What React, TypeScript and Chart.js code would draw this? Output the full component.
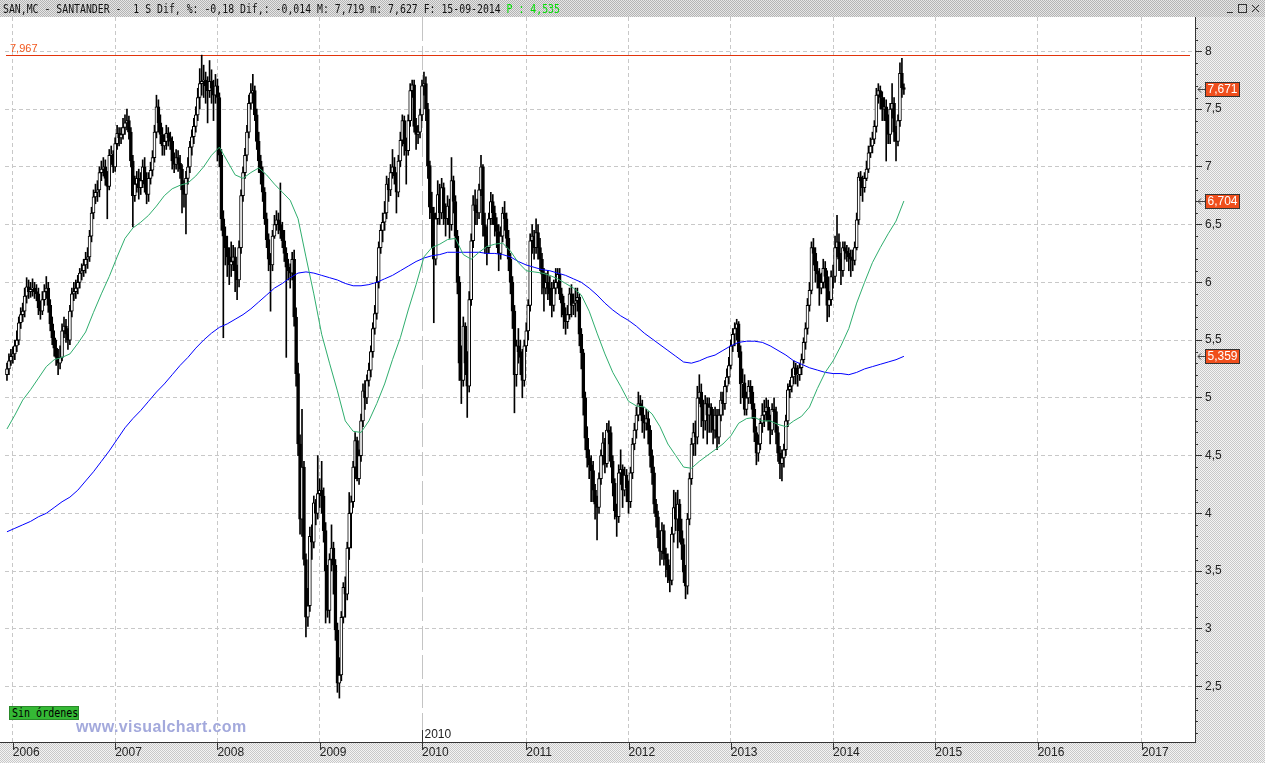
import React, { useEffect, useRef } from 'react';
import { Chart, registerables } from 'chart.js';

Chart.register(...registerables);

// Weekly candles, index 0 = mid-December 2005, last = week of 15-09-2014
const firstOpen = 5.2;
const closes = [
  5.25, 5.32, 5.36, 5.38, 5.45, 5.5, 5.65, 5.72, 5.75, 5.88,
  5.96, 5.92, 5.94, 5.95, 5.92, 5.9, 5.78, 5.75, 5.85, 5.92,
  5.95, 5.8, 5.64, 5.52, 5.43, 5.35, 5.3, 5.35, 5.58, 5.62,
  5.55, 5.5, 5.75, 5.9, 5.92, 5.95, 6.0, 6.08, 6.1, 6.15,
  6.2, 6.22, 6.4, 6.6, 6.74, 6.78, 6.8, 6.95, 6.98, 7.0,
  6.9, 6.83, 7.1, 7.1, 7.0, 7.2, 7.29, 7.25, 7.28, 7.34,
  7.38, 7.4, 7.3, 7.05, 6.75, 6.85, 6.9, 6.82, 6.88, 7.0,
  6.85, 6.76, 6.9, 6.97, 7.08, 7.3, 7.52, 7.38, 7.28, 7.18,
  7.22, 7.29, 7.25, 7.22, 7.05, 7.02, 7.08, 7.03, 6.98, 6.8,
  6.76, 6.9, 7.0, 7.17, 7.26, 7.35, 7.45, 7.6, 7.72, 7.74,
  7.75, 7.7, 7.66, 7.74, 7.68, 7.62, 7.7, 7.6, 7.1, 6.55,
  6.4, 6.3, 6.22, 6.15, 6.18, 6.22, 6.1, 6.02, 6.3, 6.75,
  6.95, 7.1, 7.3, 7.55, 7.64, 7.66, 7.45, 7.22, 7.05, 6.95,
  6.78, 6.55, 6.37, 6.2, 6.15, 6.4, 6.5, 6.54, 6.5, 6.45,
  6.36, 6.25, 6.13, 6.1, 6.08, 6.2, 5.7, 5.21, 4.6, 3.95,
  4.4, 3.6, 3.1, 3.2, 3.8, 3.75, 4.09, 4.0, 4.17, 4.2,
  4.15, 3.85, 3.5, 3.16, 3.6, 3.7, 3.55, 2.99, 2.53, 2.6,
  3.1, 3.36, 3.3, 3.7, 4.0, 4.1, 4.4, 4.63, 4.3, 4.5,
  4.8, 5.06, 5.0, 5.15, 5.24, 5.4, 5.6, 5.73, 6.0, 6.3,
  6.45, 6.52, 6.6, 6.85, 6.8, 6.95, 7.0, 6.92, 6.78, 7.05,
  7.23, 7.4, 7.2, 7.14, 7.4, 7.66, 7.71, 7.35, 7.28, 7.3,
  7.45, 7.7, 7.72, 7.5, 7.01, 6.65, 6.6, 6.2, 6.55, 6.76,
  6.6, 6.82, 6.6, 6.55, 6.66, 6.5, 6.88, 6.7, 6.4, 6.0,
  5.3, 5.15, 5.62, 5.3, 5.1, 5.85, 6.36, 6.67, 6.62, 6.6,
  6.8, 7.0, 6.5, 6.4, 6.3, 6.55, 6.7, 6.6, 6.5, 6.44,
  6.25, 6.4, 6.6, 6.55, 6.38, 6.2, 6.0, 5.75, 5.2, 5.45,
  5.4, 5.35, 5.15, 5.45, 5.58, 5.8, 6.36, 6.4, 6.3, 6.43,
  6.3, 6.2, 6.07, 5.95, 6.0, 5.95, 5.9, 5.8, 5.95, 6.0,
  6.07, 5.9, 5.82, 5.72, 5.66, 5.72, 5.9, 5.8, 5.82, 5.84,
  5.87, 5.55, 5.39, 5.0, 4.65, 4.48, 4.42, 4.37, 4.2, 4.08,
  4.05, 4.3, 4.5, 4.61, 4.43, 4.72, 4.7, 4.45, 4.26, 4.02,
  3.97, 4.35, 4.38, 4.2, 4.33, 4.22, 4.1, 4.35, 4.6, 4.72,
  4.85, 4.95, 4.92, 4.8, 4.78, 4.82, 4.72, 4.5, 4.35, 4.08,
  3.97, 3.79, 3.67, 3.85, 3.65, 3.6, 3.51, 3.42, 3.82, 4.05,
  3.95, 4.08, 3.85, 3.73, 3.49, 3.37, 3.95, 4.3, 4.6, 4.7,
  4.66, 5.0, 5.05, 4.92, 4.8, 4.95, 4.85, 4.92, 4.85, 4.72,
  4.85, 4.66, 4.85, 4.98, 4.95, 5.1, 5.18, 5.28, 5.45, 5.55,
  5.6, 5.64, 5.4, 5.12, 5.13, 4.9, 5.0, 5.1, 5.05, 4.9,
  4.7, 4.52, 4.6, 4.78, 4.85, 4.88, 4.92, 4.8, 4.72, 4.9,
  4.88, 4.7, 4.52, 4.43, 4.48, 4.55, 4.8, 5.07, 5.1, 5.18,
  5.26, 5.2, 5.2, 5.26, 5.33, 5.48, 5.6, 5.8, 5.93, 6.3,
  6.25, 6.1, 6.07, 5.95, 6.0, 6.12, 6.05, 5.8, 5.85, 6.05,
  6.05, 6.3, 6.35, 6.2, 6.1, 6.3, 6.27, 6.25, 6.22, 6.2,
  6.19, 6.3, 6.54, 6.91, 6.88, 6.82, 6.9, 6.98, 7.12, 7.18,
  7.24, 7.35, 7.62, 7.66, 7.6, 7.5, 7.52, 7.4, 7.28, 7.5,
  7.55, 7.3, 7.22, 7.4, 7.81, 7.685, 7.671,
];

const highs = [
  5.3, 5.38, 5.42, 5.44, 5.5, 5.58, 5.7, 5.78, 5.82, 5.95,
  6.04, 6.02, 6.0, 6.03, 6.0, 5.98, 5.95, 5.84, 5.92, 5.98,
  6.05, 6.0, 5.85, 5.7, 5.58, 5.5, 5.42, 5.45, 5.64, 5.7,
  5.68, 5.6, 5.8, 5.95, 6.0, 6.02, 6.06, 6.12, 6.16, 6.2,
  6.26, 6.3, 6.45, 6.65, 6.8, 6.85, 6.88, 7.0, 7.05, 7.08,
  7.06, 6.96, 7.15, 7.18, 7.14, 7.25, 7.36, 7.34, 7.34, 7.42,
  7.45, 7.5, 7.44, 7.34, 7.1, 6.92, 6.96, 6.98, 6.95, 7.06,
  7.08, 6.95, 6.95, 7.04, 7.14, 7.36, 7.62, 7.58, 7.45, 7.34,
  7.28, 7.36, 7.34, 7.3, 7.26, 7.12, 7.15, 7.14, 7.1, 7.02,
  6.88, 6.96, 7.08, 7.22, 7.32, 7.42, 7.52, 7.68, 7.85, 7.967,
  7.88, 7.82, 7.78, 7.92, 7.84, 7.75, 7.8, 7.76, 7.64, 7.15,
  6.62, 6.48, 6.4, 6.3, 6.35, 6.32, 6.3, 6.15, 6.36, 6.8,
  7.0, 7.16, 7.36, 7.62, 7.72, 7.8, 7.7, 7.5, 7.3, 7.1,
  7.0, 6.82, 6.6, 6.42, 6.25, 6.45, 6.58, 6.62, 6.6, 6.86,
  6.52, 6.45, 6.3, 6.2, 6.16, 6.26, 6.28, 5.78, 5.3, 4.68,
  4.9, 4.45, 3.65, 3.35, 3.88, 3.9, 4.15, 4.12, 4.5, 4.3,
  4.45, 4.22, 3.92, 3.55, 3.65, 3.9, 3.75, 3.6, 3.05, 2.75,
  3.15, 3.4, 3.45, 3.75, 4.18, 4.15, 4.45, 4.7, 4.66, 4.55,
  4.86, 5.12, 5.15, 5.2, 5.3, 5.45, 5.65, 5.8, 6.05, 6.35,
  6.5, 6.6, 6.7, 6.92, 6.9, 7.02, 7.15, 7.08, 6.95, 7.1,
  7.3, 7.45, 7.44, 7.25, 7.45, 7.72, 7.75, 7.75, 7.42, 7.36,
  7.5, 7.75, 7.82, 7.78, 7.55, 7.05, 6.78, 6.65, 6.6, 6.88,
  6.85, 6.9, 6.86, 6.68, 6.75, 6.72, 7.08, 6.92, 6.75, 6.45,
  6.05, 5.45, 5.7, 5.65, 5.4, 5.92, 6.42, 6.75, 6.8, 6.72,
  6.85, 7.1, 7.02, 6.6, 6.48, 6.6, 6.78, 6.76, 6.66, 6.56,
  6.5, 6.48, 6.65, 6.7, 6.6, 6.45, 6.25, 6.05, 5.8, 5.5,
  5.6, 5.5, 5.42, 5.5, 5.65, 5.85, 6.42, 6.5, 6.45, 6.55,
  6.5, 6.38, 6.25, 6.12, 6.08, 6.1, 6.05, 6.0, 6.02, 6.12,
  6.12, 6.12, 5.95, 5.88, 5.78, 5.8, 5.95, 5.98, 5.9, 5.95,
  5.95, 5.9, 5.6, 5.42, 5.05, 4.75, 4.55, 4.5, 4.45, 4.25,
  4.15, 4.35, 4.55, 4.7, 4.65, 4.78, 4.8, 4.75, 4.5, 4.3,
  4.08, 4.42, 4.55, 4.42, 4.4, 4.38, 4.28, 4.4, 4.65, 4.78,
  4.92, 5.05, 5.02, 4.98, 4.85, 4.9, 4.88, 4.76, 4.55, 4.4,
  4.12, 4.02, 3.85, 3.92, 3.9, 3.7, 3.65, 3.55, 3.88, 4.2,
  4.18, 4.2, 4.12, 3.95, 3.78, 3.55, 4.0, 4.35, 4.65, 4.78,
  4.8, 5.1, 5.2, 5.12, 4.98, 5.02, 5.0, 5.0, 4.95, 4.9,
  4.92, 4.9, 4.9, 5.05, 5.05, 5.15, 5.25, 5.35, 5.5, 5.6,
  5.65, 5.68, 5.66, 5.45, 5.25, 5.2, 5.05, 5.15, 5.15, 5.1,
  4.95, 4.75, 4.68, 4.82, 4.95, 4.98, 5.0, 4.98, 4.85, 4.95,
  5.0, 4.92, 4.75, 4.58, 4.55, 4.6, 4.85, 5.12, 5.15, 5.25,
  5.32, 5.3, 5.28, 5.3, 5.38, 5.52, 5.65, 5.86, 6.0, 6.35,
  6.38, 6.3, 6.18, 6.12, 6.08, 6.2, 6.18, 6.1, 5.92, 6.1,
  6.15, 6.4, 6.58, 6.42, 6.25, 6.35, 6.35, 6.32, 6.3, 6.28,
  6.28, 6.35, 6.6, 6.95, 6.96, 6.92, 6.95, 7.05, 7.18, 7.25,
  7.3, 7.4, 7.68, 7.72, 7.7, 7.65, 7.6, 7.58, 7.45, 7.55,
  7.72, 7.6, 7.35, 7.45, 7.9, 7.94, 7.719,
];

const lows = [
  5.15, 5.2, 5.28, 5.3, 5.33, 5.4, 5.46, 5.6, 5.66, 5.7,
  5.82, 5.86, 5.87, 5.88, 5.86, 5.84, 5.72, 5.68, 5.72, 5.8,
  5.86, 5.74, 5.58, 5.46, 5.36, 5.28, 5.2, 5.25, 5.32, 5.52,
  5.48, 5.42, 5.46, 5.7, 5.84, 5.86, 5.9, 5.95, 6.02, 6.05,
  6.08, 6.12, 6.18, 6.35, 6.55, 6.68, 6.7, 6.74, 6.88, 6.92,
  6.84, 6.55, 6.8, 7.02, 6.95, 6.96, 7.15, 7.18, 7.2, 7.24,
  7.28, 7.32, 7.24, 7.0, 6.48, 6.7, 6.78, 6.72, 6.76, 6.82,
  6.78, 6.68, 6.7, 6.85, 6.92, 7.04, 7.25, 7.3, 7.2, 7.1,
  7.1, 7.15, 7.18, 7.15, 6.98, 6.95, 6.98, 6.96, 6.9, 6.6,
  6.65, 6.42, 6.85, 6.95, 7.1, 7.2, 7.3, 7.4, 7.5, 7.62,
  7.6, 7.55, 7.38, 7.6, 7.55, 7.4, 7.55, 7.05, 7.0, 6.45,
  5.52, 6.15, 6.05, 5.98, 6.05, 6.1, 5.92, 5.85, 5.96, 6.25,
  6.7, 6.9, 7.05, 7.25, 7.5, 7.55, 7.4, 7.15, 6.95, 6.85,
  6.7, 6.5, 6.3, 6.1, 5.75, 6.1, 6.38, 6.45, 6.42, 6.38,
  6.3, 6.18, 5.35, 6.02, 5.95, 6.02, 5.62, 5.1, 4.5, 3.82,
  3.8, 3.55, 2.93, 3.02, 3.15, 3.6, 3.7, 3.9, 3.95, 4.05,
  4.0, 3.75, 3.05, 3.1, 3.05, 3.5, 3.3, 2.9, 2.45, 2.4,
  2.55, 3.05, 3.1, 3.25, 3.6, 3.7, 4.05, 4.3, 4.28, 4.25,
  4.45, 4.75, 4.9, 4.95, 5.1, 5.18, 5.35, 5.55, 5.68, 5.95,
  6.25, 6.35, 6.45, 6.55, 6.7, 6.75, 6.9, 6.85, 6.6, 6.74,
  7.0, 7.18, 7.1, 6.85, 7.1, 7.35, 7.6, 7.3, 7.15, 7.2,
  7.25, 7.4, 7.62, 7.4, 6.9, 6.55, 6.3, 5.65, 6.15, 6.5,
  6.5, 6.55, 6.5, 6.4, 6.5, 6.38, 6.45, 6.6, 6.3, 5.9,
  5.15, 4.95, 5.1, 5.2, 4.83, 5.05, 5.8, 6.3, 6.5, 6.5,
  6.55, 6.75, 6.4, 6.25, 6.15, 6.25, 6.5, 6.5, 6.4, 6.3,
  6.1, 6.2, 6.35, 6.45, 6.3, 6.1, 5.9, 5.6, 4.87, 5.1,
  5.3, 5.2, 5.0, 5.1, 5.4, 5.5, 5.75, 6.25, 6.2, 6.25,
  6.2, 6.1, 5.9, 5.75, 5.9, 5.85, 5.8, 5.7, 5.75, 5.9,
  5.95, 5.85, 5.7, 5.6, 5.55, 5.6, 5.68, 5.7, 5.72, 5.7,
  5.75, 5.45, 5.25, 4.85, 4.55, 4.4, 4.3, 4.1, 4.1, 3.95,
  3.77, 4.0, 4.25, 4.42, 4.35, 4.4, 4.6, 4.4, 4.15, 3.95,
  3.8, 3.92, 4.25, 4.05, 4.15, 4.1, 4.0, 4.05, 4.3, 4.55,
  4.65, 4.8, 4.85, 4.7, 4.65, 4.72, 4.6, 4.4, 4.25, 4.0,
  3.88, 3.7, 3.55, 3.6, 3.55, 3.45, 3.4, 3.32, 3.38, 3.75,
  3.85, 3.7, 3.75, 3.6, 3.4, 3.26, 3.3, 3.9, 4.25, 4.5,
  4.5, 4.6, 4.95, 4.75, 4.65, 4.72, 4.6, 4.7, 4.7, 4.6,
  4.65, 4.55, 4.6, 4.8, 4.85, 4.9, 5.05, 5.12, 5.25, 5.4,
  5.45, 5.5, 5.35, 4.95, 5.0, 4.85, 4.85, 4.95, 4.95, 4.82,
  4.62, 4.42, 4.45, 4.55, 4.7, 4.75, 4.8, 4.72, 4.6, 4.68,
  4.78, 4.6, 4.45, 4.3, 4.28, 4.4, 4.5, 4.75, 5.0, 5.05,
  5.12, 5.12, 5.1, 5.15, 5.2, 5.3, 5.42, 5.55, 5.75, 5.9,
  6.15, 6.0, 5.95, 5.8, 5.9, 5.95, 5.95, 5.66, 5.7, 5.8,
  5.95, 6.0, 6.22, 6.1, 5.98, 6.05, 6.2, 6.18, 6.1, 6.05,
  6.1, 6.15, 6.28, 6.5, 6.75, 6.7, 6.78, 6.88, 6.95, 7.08,
  7.12, 7.2, 7.3, 7.55, 7.5, 7.4, 7.4, 7.05, 7.2, 7.2,
  7.42, 7.22, 7.05, 7.18, 7.35, 7.6, 7.627,
];

// Moving averages, read every 4 weeks
const maStep = 4;
const greenMA = [
  4.73, 4.85, 4.98, 5.07, 5.17, 5.27, 5.33, 5.35, 5.38, 5.47,
  5.57, 5.74, 5.9, 6.05, 6.22, 6.38, 6.47, 6.52, 6.58, 6.66,
  6.75, 6.81, 6.84, 6.86, 6.92, 7.0, 7.1, 7.17, 7.05, 6.93,
  6.9, 6.95, 6.99, 6.93, 6.85, 6.78, 6.71, 6.55, 6.22, 5.9,
  5.55, 5.3, 5.06, 4.8, 4.71, 4.7, 4.8, 4.95, 5.12, 5.33,
  5.52, 5.76, 5.98, 6.22, 6.3, 6.33, 6.37, 6.38, 6.24, 6.2,
  6.26, 6.31, 6.33, 6.34, 6.27, 6.17, 6.1, 6.09, 6.08, 6.06,
  6.03, 5.99, 5.95, 5.89, 5.75, 5.56, 5.38, 5.22, 5.1, 4.97,
  4.93, 4.92, 4.86, 4.75, 4.6, 4.5, 4.4, 4.39, 4.45, 4.5,
  4.55, 4.6, 4.67, 4.78, 4.82, 4.83, 4.8, 4.8, 4.77, 4.75,
  4.8, 4.84, 4.92, 5.08, 5.22, 5.32, 5.45, 5.6, 5.82, 6.0,
  6.17, 6.3, 6.42, 6.53, 6.704,
];
const blueMA = [
  3.84, 3.87, 3.9, 3.93, 3.97, 4.0, 4.05, 4.1, 4.14, 4.2,
  4.28, 4.36, 4.45, 4.54, 4.64, 4.74, 4.82, 4.89, 4.97, 5.05,
  5.12, 5.2, 5.28, 5.35, 5.43, 5.5, 5.56, 5.61, 5.64, 5.68,
  5.72, 5.77, 5.83, 5.89, 5.95, 5.99, 6.04, 6.08, 6.09, 6.08,
  6.06, 6.04, 6.02, 5.99, 5.97, 5.97, 5.98, 6.0, 6.03, 6.06,
  6.1, 6.14, 6.18, 6.21, 6.23, 6.24, 6.26, 6.26, 6.26, 6.26,
  6.26, 6.25, 6.25, 6.24, 6.22, 6.18, 6.15, 6.13, 6.11, 6.1,
  6.08, 6.06, 6.03, 6.0, 5.95, 5.89, 5.82, 5.76, 5.71, 5.67,
  5.62, 5.56, 5.51, 5.46, 5.41, 5.36, 5.31, 5.3, 5.32, 5.35,
  5.37, 5.41, 5.45, 5.48, 5.49, 5.49, 5.48, 5.45, 5.41, 5.37,
  5.32, 5.29, 5.26, 5.24, 5.22, 5.21, 5.21, 5.2, 5.22, 5.25,
  5.27, 5.29, 5.31, 5.33, 5.359,
];

const yearLabels = ['2006', '2007', '2008', '2009', '2010', '2011', '2012', '2013', '2014', '2015', '2016', '2017'];
const yearWeekIndex = [3, 55, 107, 159, 211, 264, 316, 368, 420, 472, 524, 577];
const yTickValues = [2.5, 3, 3.5, 4, 4.5, 5, 5.5, 6, 6.5, 7, 7.5, 8];
const markedYearIndex = 4; // 2010 divider

const X_MIN = -1;
const X_MAX = 604;
const Y_MIN = 2.02;
const Y_MAX = 8.297;

const fmt = (v: number) => String(v).replace('.', ',');

function makePattern(ctx: CanvasRenderingContext2D, dark: string, light: string) {
  const c = document.createElement('canvas');
  c.width = 2;
  c.height = 2;
  const g = c.getContext('2d')!;
  g.fillStyle = light;
  g.fillRect(0, 0, 2, 2);
  g.fillStyle = dark;
  g.fillRect(0, 0, 1, 1);
  g.fillRect(1, 1, 1, 1);
  return ctx.createPattern(c, 'repeat')!;
}

export default function App() {
  const ref = useRef<HTMLCanvasElement>(null);

  useEffect(() => {
    const canvas = ref.current!;
    const opens = closes.map((c, i) => (i === 0 ? firstOpen : closes[i - 1]));
    const bodies = closes.map((c, i) => ({ x: i, y: [opens[i], c] }));
    const wicks = closes.map((c, i) => ({ x: i, y: [lows[i], highs[i]] }));
    const bodyFill = closes.map((c, i) => (c >= opens[i] ? '#ffffff' : '#000000'));
    const greenPts = greenMA.map((v, k) => ({ x: k * maStep, y: v }));
    const bluePts = blueMA.map((v, k) => ({ x: k * maStep, y: v }));
    const maxHigh = Math.max(...highs);
    const tags = [closes[closes.length - 1], greenMA[greenMA.length - 1], blueMA[blueMA.length - 1]];

    const decor = {
      id: 'decor',
      beforeDraw(chart: any) {
        const { ctx, chartArea: a, width, height } = chart;
        ctx.save();
        ctx.fillStyle = '#ffffff';
        ctx.fillRect(0, 0, width, height);
        ctx.fillStyle = makePattern(ctx, '#b4b4b4', '#e6e6e6');
        ctx.fillRect(0, 0, width, a.top);
        ctx.fillStyle = makePattern(ctx, '#c8c8c8', '#f4f4f4');
        ctx.fillRect(a.right, a.top, width - a.right, height - a.top);
        ctx.fillRect(0, a.bottom, a.right, height - a.bottom);
        ctx.restore();
      },
      beforeDatasetsDraw(chart: any) {
        const { ctx, chartArea: a, scales } = chart;
        const xs = scales.x;
        const ys = scales.y;
        ctx.save();
        const xd = Math.round(xs.getPixelForValue(yearWeekIndex[markedYearIndex])) + 0.5;
        ctx.strokeStyle = '#c4c4c4';
        ctx.lineWidth = 1;
        ctx.setLineDash([24, 5]);
        ctx.beginPath();
        ctx.moveTo(xd, a.top);
        ctx.lineTo(xd, a.bottom);
        ctx.stroke();
        ctx.setLineDash([]);
        const ym = Math.round(ys.getPixelForValue(maxHigh)) + 0.5;
        ctx.strokeStyle = '#e2340c';
        ctx.beginPath();
        ctx.moveTo(a.left + 1, ym);
        ctx.lineTo(a.right - 5, ym);
        ctx.stroke();
        ctx.fillStyle = '#f2581e';
        ctx.font = '11px "Liberation Sans", Arial, sans-serif';
        ctx.textBaseline = 'alphabetic';
        ctx.textAlign = 'left';
        ctx.fillText(fmt(maxHigh), 10, ym - 4);
        ctx.restore();
      },
      afterDraw(chart: any) {
        const { ctx, chartArea: a, scales, width } = chart;
        const xs = scales.x;
        const ys = scales.y;
        ctx.save();
        ctx.strokeStyle = '#333333';
        ctx.lineWidth = 1;
        for (let k = 21; k <= 82; k++) {
          if (k % 5 === 0) continue;
          const y = Math.round(ys.getPixelForValue(k / 10)) + 0.5;
          ctx.beginPath();
          ctx.moveTo(a.right, y);
          ctx.lineTo(a.right + 3, y);
          ctx.stroke();
        }
        yearWeekIndex.forEach((v) => {
          const x = Math.round(xs.getPixelForValue(v)) + 0.5;
          ctx.beginPath();
          ctx.moveTo(x, a.bottom);
          ctx.lineTo(x, a.bottom + 8);
          ctx.stroke();
        });
        ctx.beginPath();
        ctx.moveTo(0, a.bottom + 0.5);
        ctx.lineTo(a.left, a.bottom + 0.5);
        ctx.stroke();
        const xd = Math.round(xs.getPixelForValue(yearWeekIndex[markedYearIndex])) + 0.5;
        ctx.beginPath();
        ctx.moveTo(xd, a.bottom - 12);
        ctx.lineTo(xd, a.bottom);
        ctx.stroke();
        ctx.fillStyle = '#222222';
        ctx.font = '12px "Liberation Sans", Arial, sans-serif';
        ctx.textAlign = 'left';
        ctx.textBaseline = 'alphabetic';
        ctx.fillText(yearLabels[markedYearIndex], xd + 2, a.bottom - 4);
        tags.forEach((v) => {
          const y = Math.round(ys.getPixelForValue(v));
          ctx.strokeStyle = '#444444';
          ctx.beginPath();
          ctx.moveTo(a.right + 3, y + 0.5);
          ctx.lineTo(a.right + 10, y + 0.5);
          ctx.moveTo(a.right + 3, y + 0.5);
          ctx.lineTo(a.right + 6, y - 2.5);
          ctx.moveTo(a.right + 3, y + 0.5);
          ctx.lineTo(a.right + 6, y + 3.5);
          ctx.stroke();
          ctx.fillStyle = '#f04e1c';
          ctx.fillRect(a.right + 10, y - 7, 35, 15);
          ctx.strokeStyle = '#333333';
          ctx.strokeRect(a.right + 10.5, y - 6.5, 34, 14);
          ctx.fillStyle = '#ffffff';
          ctx.font = '12px "Liberation Sans", Arial, sans-serif';
          ctx.textAlign = 'center';
          ctx.textBaseline = 'middle';
          ctx.fillText(fmt(v), a.right + 27.5, y + 1);
        });
        ctx.strokeStyle = '#333333';
        ctx.beginPath();
        ctx.moveTo(width - 38, 12.5);
        ctx.lineTo(width - 32, 12.5);
        ctx.stroke();
        ctx.strokeRect(width - 26.5, 4.5, 8, 8);
        ctx.beginPath();
        ctx.moveTo(width - 13, 5);
        ctx.lineTo(width - 6, 12);
        ctx.moveTo(width - 6, 5);
        ctx.lineTo(width - 13, 12);
        ctx.stroke();
        ctx.restore();
      },
    };

    const chart = new Chart(canvas, {
      type: 'bar',
      data: {
        datasets: [
          {
            type: 'line',
            data: greenPts,
            borderColor: '#2fae6e',
            borderWidth: 1,
            pointRadius: 0,
            tension: 0,
            order: 0,
          } as any,
          {
            type: 'line',
            data: bluePts,
            borderColor: '#0000ff',
            borderWidth: 1,
            pointRadius: 0,
            tension: 0,
            order: 0,
          } as any,
          {
            type: 'bar',
            data: bodies,
            backgroundColor: bodyFill,
            borderColor: '#000000',
            borderWidth: 1,
            borderSkipped: false,
            barThickness: 3,
            minBarLength: 1,
            grouped: false,
            order: 1,
          } as any,
          {
            type: 'bar',
            data: wicks,
            backgroundColor: '#000000',
            borderWidth: 0,
            barThickness: 1,
            grouped: false,
            order: 2,
          } as any,
        ],
      },
      options: {
        animation: false,
        responsive: false,
        devicePixelRatio: 1,
        events: [],
        layout: { padding: { left: 5, top: 17, right: 0, bottom: 0 }, autoPadding: false } as any,
        plugins: { legend: { display: false }, tooltip: { enabled: false } },
        scales: {
          x: {
            type: 'linear',
            min: X_MIN,
            max: X_MAX,
            bounds: 'data',
            offset: false,
            afterFit: (s: any) => {
              s.height = 21;
            },
            afterBuildTicks: (s: any) => {
              s.ticks = yearWeekIndex.map((v) => ({ value: v }));
            },
            grid: {
              offset: false,
              drawTicks: false,
              color: (c: any) =>
                c.tick && c.tick.value === yearWeekIndex[markedYearIndex] ? 'rgba(0,0,0,0)' : '#c8c8c8',
              lineWidth: 1,
            },
            border: { color: '#333333', width: 1, dash: [4, 3] },
            ticks: {
              autoSkip: false,
              maxRotation: 0,
              align: 'start',
              padding: 3,
              color: '#222222',
              font: { family: '"Liberation Sans", Arial, sans-serif', size: 12 },
              callback: (v: any, i: number) => yearLabels[i],
            },
          } as any,
          y: {
            type: 'linear',
            position: 'right',
            min: Y_MIN,
            max: Y_MAX,
            bounds: 'data',
            afterFit: (s: any) => {
              s.width = 70;
            },
            afterBuildTicks: (s: any) => {
              s.ticks = yTickValues.map((v) => ({ value: v }));
            },
            grid: {
              color: '#c8c8c8',
              lineWidth: 1,
              drawTicks: true,
              tickLength: 7,
              tickColor: '#333333',
              tickBorderDash: [],
            },
            border: { color: '#333333', width: 1, dash: [4, 3] },
            ticks: {
              padding: 3,
              color: '#222222',
              font: { family: '"Liberation Sans", Arial, sans-serif', size: 12 },
              callback: (v: any) => fmt(v),
            },
          } as any,
        },
      },
      plugins: [decor],
    } as any);

    return () => chart.destroy();
  }, []);

  return (
    <div style={{ position: 'absolute', left: 0, top: 0, width: 1265, height: 763, overflow: 'hidden', background: '#fff' }}>
      <canvas ref={ref} width={1265} height={763} style={{ position: 'absolute', left: 0, top: 0, width: 1265, height: 763 }} />
      <div
        style={{
          position: 'absolute',
          left: 3,
          top: 2,
          fontFamily: '"DejaVu Sans Mono", monospace',
          fontSize: 13,
          lineHeight: '13px',
          whiteSpace: 'pre',
          transform: 'scaleX(0.757)',
          transformOrigin: '0 0',
          color: '#111',
        }}
      >
        SAN,MC - SANTANDER -  1 S Dif, %: -0,18 Dif,: -0,014 M: 7,719 m: 7,627 F: 15-09-2014 <span style={{ color: '#00dd00' }}>P : 4,535</span>
      </div>
      <div
        style={{
          position: 'absolute',
          left: 9,
          top: 706,
          width: 70,
          height: 14,
          background: '#35b935',
          border: '1px solid #2a8a2a',
          boxSizing: 'border-box',
          overflow: 'hidden',
        }}
      >
        <div
          style={{
            position: 'absolute',
            left: 2,
            top: 0,
            fontFamily: '"DejaVu Sans Mono", monospace',
            fontSize: 13,
            lineHeight: '12px',
            whiteSpace: 'pre',
            transform: 'scaleX(0.77)',
            transformOrigin: '0 0',
            color: '#000',
          }}
        >
          Sin órdenes
        </div>
      </div>
      <div
        style={{
          position: 'absolute',
          left: 76,
          top: 718,
          fontFamily: '"Liberation Sans", Arial, sans-serif',
          fontWeight: 'bold',
          fontSize: 16,
          letterSpacing: '0.4px',
          color: '#a3a9dc',
          whiteSpace: 'pre',
        }}
      >
        www.visualchart.com
      </div>
    </div>
  );
}
